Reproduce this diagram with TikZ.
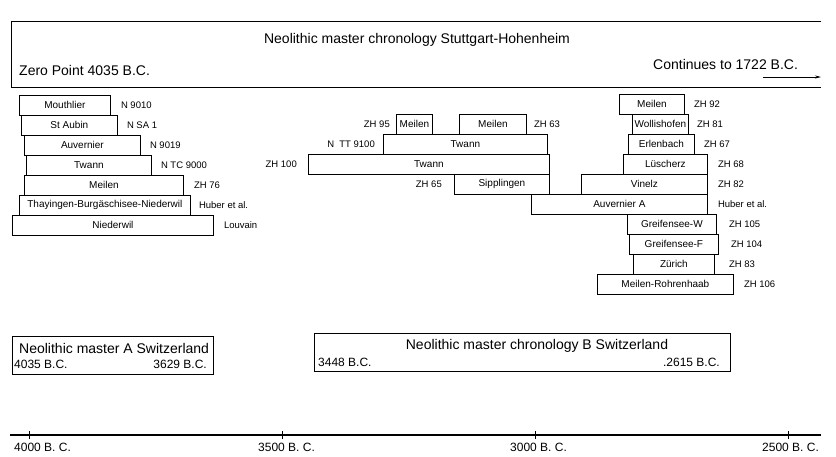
\documentclass[tikz,border=0pt]{standalone}
\usepackage{fontspec}
\setmainfont{Liberation Sans}
\usetikzlibrary{positioning,arrows.meta}

\begin{document}
\begin{tikzpicture}[x=1pt, y=-1pt,
    yrbox/.style={draw, line width=0.8pt, minimum height=20pt, inner sep=0pt, anchor=north west, font=\fontsize{10}{11}\selectfont},
    lab/.style={inner sep=0pt, font=\fontsize{9.5}{11}\selectfont},
    big/.style={inner sep=0pt, font=\fontsize{14}{16}\selectfont},
    mid/.style={inner sep=0pt, font=\fontsize{12}{14}\selectfont}]
    \useasboundingbox (0,0) rectangle (836,456);

    % Kopfzeile
    \draw[line width=0.8pt] (821,21) -- (11,21) -- (11,87) -- (821,87);
    \node[big] (title) at (417,40) {Neolithic master chronology Stuttgart-Hohenheim};
    \node[big, anchor=west] (zero) at (19,70) {Zero Point 4035 B.C.};
    \node[big, anchor=west] (cont) at (653,64) {Continues to 1722 B.C.};
    \coordinate (arr-s) at (763,77);
    \coordinate (arr-e) at (821,77);
    \draw[line width=0.8pt, -{Stealth[length=6pt, width=3pt]}] (arr-s) -- (arr-e);

    % linke Gruppe
    \node[yrbox, minimum width=91pt] (moutlier) at (19,95) {Mouthlier};
    \node[yrbox, minimum width=96pt] (staubin) at (21,115) {St Aubin};
    \node[yrbox, minimum width=116pt] (auvernier) at (24,135) {Auvernier};
    \node[yrbox, minimum width=125pt] (twannA) at (26,155) {Twann};
    \node[yrbox, minimum width=159pt] (meilenA) at (24,175) {Meilen};
    \node[yrbox, minimum width=171pt] (thayingen) at (19,195) {Thayingen-Burgäschisee-Niederwil};
    \node[yrbox, minimum width=201pt] (niederwil) at (12,215) {Niederwil};
    \node[lab, right=10pt of moutlier] (l-moutlier) {N 9010};
    \node[lab, right=9pt of staubin] (l-staubin) {N SA 1};
    \node[lab, right=9pt of auvernier] (l-auvernier) {N 9019};
    \node[lab, right=9pt of twannA] (l-twannA) {N TC 9000};
    \node[lab, right=10pt of meilenA] (l-meilenA) {ZH 76};
    \node[lab, right=8pt of thayingen] (l-thayingen) {Huber et al.};
    \node[lab, right=10pt of niederwil] (l-niederwil) {Louvain};

    % mittlere Gruppe
    \node[yrbox, minimum width=36pt] (meilenB) at (396,114) {Meilen};
    \node[yrbox, minimum width=67pt] (meilenC) at (459,114) {Meilen};
    \node[yrbox, minimum width=164pt] (twannB) at (383,134) {Twann};
    \node[yrbox, minimum width=241pt] (twannC) at (308,154) {Twann};
    \node[yrbox, minimum width=95pt] (sipplingen) at (454,174) {Sipplingen};
    \node[yrbox, minimum width=176pt] (auvernierA) at (531,194) {Auvernier A};
    \node[lab, left=6pt of meilenB] (l-meilenB) {ZH 95};
    \node[lab, right=7pt of meilenC] (l-meilenC) {ZH 63};
    \node[lab, left=8pt of twannB] (l-twannB) {N\ \ TT 9100};
    \node[lab, left=11pt of twannC] (l-twannC) {ZH 100};
    \node[lab, left=12pt of sipplingen] (l-sipplingen) {ZH 65};
    \node[lab, right=10pt of auvernierA] (l-auvernierA) {Huber et al.};

    % rechte Gruppe
    \node[yrbox, minimum width=65pt] (meilenD) at (619,94) {Meilen};
    \node[yrbox, minimum width=56pt] (wollishofen) at (632,114) {Wollishofen};
    \node[yrbox, minimum width=66pt] (erlenbach) at (628,134) {Erlenbach};
    \node[yrbox, minimum width=84pt] (luescherz) at (623,154) {Lüscherz};
    \node[yrbox, minimum width=126pt] (vinelz) at (581,174) {Vinelz};
    \node[yrbox, minimum width=89pt] (greifW) at (627,214) {Greifensee-W};
    \node[yrbox, minimum width=89pt] (greifF) at (629,234) {Greifensee-F};
    \node[yrbox, minimum width=81pt] (zuerich) at (633,254) {Zürich};
    \node[yrbox, minimum width=136pt] (rohrenhaab) at (597,274) {Meilen-Rohrenhaab};
    \node[lab, right=9pt of meilenD] (l-meilenD) {ZH 92};
    \node[lab, right=8pt of wollishofen] (l-wollishofen) {ZH 81};
    \node[lab, right=9pt of erlenbach] (l-erlenbach) {ZH 67};
    \node[lab, right=10pt of luescherz] (l-luescherz) {ZH 68};
    \node[lab, right=10pt of vinelz] (l-vinelz) {ZH 82};
    \node[lab, right=12pt of greifW] (l-greifW) {ZH 105};
    \node[lab, right=12pt of greifF] (l-greifF) {ZH 104};
    \node[lab, right=14pt of zuerich] (l-zuerich) {ZH 83};
    \node[lab, right=10pt of rohrenhaab] (l-rohrenhaab) {ZH 106};

    % Masterchronologien
    \draw[line width=0.8pt] (12,336) rectangle (213,374);
    \node[big, anchor=west] (mA) at (19,348) {Neolithic master A Switzerland};
    \node[mid, anchor=west] (mA-s) at (14,364) {4035 B.C.};
    \node[mid, anchor=east] (mA-e) at (207,364) {3629 B.C.};
    \draw[line width=0.8pt] (314,333) rectangle (730,371);
    \node[big] (mB) at (537,346) {Neolithic master chronology B Switzerland};
    \node[mid, anchor=west] (mB-s) at (318,362) {3448 B.C.};
    \node[mid, anchor=east] (mB-e) at (720,362) {.2615 B.C.};

    % Zeitachse
    \draw[line width=1.6pt] (10,435) -- (821,435);
    \foreach \t/\s/\yr in {29/14/4000, 282/258/3500, 535/510/3000, 788/762/2500} {
        \draw[line width=0.8pt] (\t,431) -- (\t,439);
        \node[mid, anchor=north west] (ax-\yr) at (\s,443) {\yr\ B. C.};
    }
\end{tikzpicture}
\end{document}
